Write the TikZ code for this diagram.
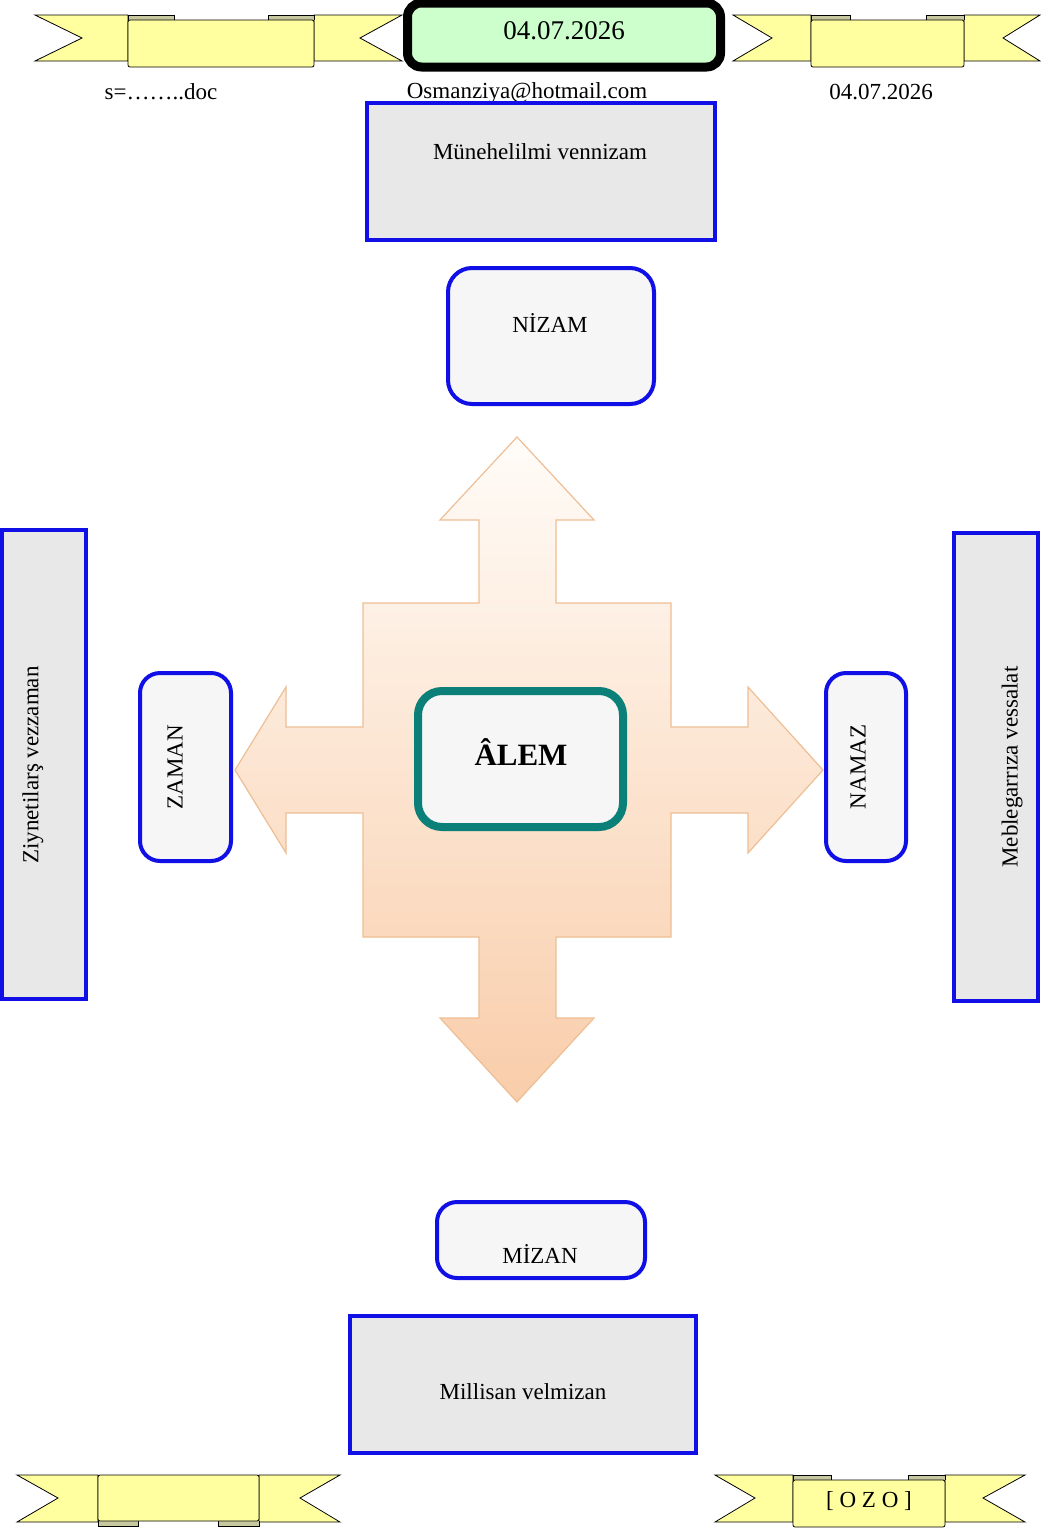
\documentclass[tikz,border=0pt]{standalone}
\usepackage{fontspec}
\setmainfont{Liberation Serif}
\definecolor{boxblue}{RGB}{15,15,230}
\definecolor{boxgray}{RGB}{232,232,232}
\definecolor{boxlight}{RGB}{246,246,246}
\definecolor{tealc}{RGB}{10,128,120}
\definecolor{ribyellow}{RGB}{255,255,160}
\definecolor{foldc}{RGB}{200,200,160}
\definecolor{dategreen}{RGB}{204,255,204}
\definecolor{arrtop}{RGB}{255,252,248}
\definecolor{arrbot}{RGB}{249,205,170}
\definecolor{arrline}{RGB}{238,190,148}
\begin{document}
\begin{tikzpicture}[x=1pt,y=-1pt,
  bluebox/.style={draw=boxblue, line width=4pt, fill=boxgray, inner sep=0pt},
  roundbox/.style={draw=boxblue, line width=4pt, fill=boxlight, rounded corners=20pt, inner sep=0pt},
  lbl/.style={font=\fontsize{23}{27}\selectfont, inner sep=0pt},
  ribbon/.style={fill=ribyellow, draw=black, line width=0.8pt},
  fold/.style={fill=foldc, draw=black, line width=0.6pt},
]
\useasboundingbox (0,0) rectangle (1041,1529);

% ---- top-left banner
\draw[ribbon] (128,15) -- (35,15) -- (82,38) -- (35,61) -- (128,61) -- cycle;
\draw[ribbon] (314,15) -- (402,15) -- (360,38) -- (402,61) -- (314,61) -- cycle;
\draw[fold] (128,20) -- (128,15) -- (174,15) -- (174,20);
\draw[fold] (268,20) -- (268,15) -- (314,15) -- (314,20);
\draw[ribbon, rounded corners=2pt] (128,20) rectangle (314,67);

% ---- top-right banner
\draw[ribbon] (811,15) -- (733,15) -- (772,38) -- (733,61) -- (811,61) -- cycle;
\draw[ribbon] (964,15) -- (1040,15) -- (1003,38) -- (1040,61) -- (964,61) -- cycle;
\draw[fold] (811,20) -- (811,15) -- (850,15) -- (850,20);
\draw[fold] (926,20) -- (926,15) -- (964,15) -- (964,20);
\draw[ribbon, rounded corners=2pt] (811,20) rectangle (964,67);

% ---- date box
\node[draw=black, line width=9pt, fill=dategreen, rounded corners=14pt,
      minimum width=313pt, minimum height=64pt, inner sep=0pt] (datebox) at (564,35) {};
\node[font=\fontsize{27}{32}\selectfont, inner sep=0pt] (datetxt) at (564,31) {04.07.2026};

% ---- header texts
\node[lbl] (doc) at (161,92) {s=……..doc};
\node[lbl] (date2) at (881,92) {04.07.2026};
\node[lbl] (mail) at (527,93) {Osmanziya@hotmail.com};

% ---- four-way arrow
\draw[arrline, line width=1.2pt, top color=arrtop, bottom color=arrbot]
  (517,437) -- (594,520) -- (556,520) -- (556,603) -- (671,603) -- (671,727)
  -- (748,727) -- (748,687) -- (823,770) -- (748,853) -- (748,813) -- (671,813)
  -- (671,937) -- (556,937) -- (556,1018) -- (594,1018) -- (517,1102) -- (440,1018)
  -- (479,1018) -- (479,937) -- (363,937) -- (363,813) -- (286,813) -- (286,853)
  -- (235,770) -- (286,687) -- (286,727) -- (363,727) -- (363,603) -- (479,603)
  -- (479,520) -- (440,520) -- cycle;

% ---- boxes
\node[bluebox, minimum width=348pt, minimum height=137pt] (mun) at (541,171.5) {};
\node[lbl] (muntxt) at (540,152) {Münehelilmi vennizam};

\node[roundbox, rounded corners=24pt, minimum width=206pt, minimum height=136pt] (nizam) at (551,336) {};
\node[lbl] (nizamtxt) at (550,323) {NİZAM};

\node[bluebox, minimum width=84pt, minimum height=469pt] (ziy) at (44,764.5) {};
\node[lbl, rotate=90] (ziytxt) at (33,765) {Ziynetilarş vezzaman};

\node[roundbox, minimum width=91pt, minimum height=188pt] (zaman) at (185.5,767) {};
\node[lbl, rotate=90] (zamantxt) at (175,767) {ZAMAN};

\node[roundbox, minimum width=80pt, minimum height=188pt] (namaz) at (866,767) {};
\node[lbl, rotate=90] (namaztxt) at (858,767) {NAMAZ};

\node[bluebox, minimum width=84pt, minimum height=468pt] (meb) at (996,767) {};
\node[lbl, rotate=90] (mebtxt) at (1012,767) {Meblegarrıza vessalat};

\node[draw=tealc, line width=8pt, fill=boxlight, rounded corners=24pt,
      minimum width=205pt, minimum height=136pt, inner sep=0pt] (alem) at (520.5,759) {};
\node[font=\fontsize{31}{36}\selectfont\bfseries, inner sep=0pt] (alemtxt) at (521,752) {ÂLEM};

\node[roundbox, minimum width=208pt, minimum height=76pt] (mizan) at (541,1240) {};
\node[lbl] (mizantxt) at (540,1254) {MİZAN};

\node[bluebox, minimum width=346pt, minimum height=137pt] (mil) at (523,1384.5) {};
\node[lbl] (miltxt) at (523,1392) {Millisan velmizan};

% ---- bottom-left banner
\draw[ribbon] (98,1475) -- (17,1475) -- (58,1498) -- (17,1522) -- (98,1522) -- cycle;
\draw[ribbon] (259,1475) -- (340,1475) -- (300,1498) -- (340,1522) -- (259,1522) -- cycle;
\draw[fold] (98,1521) -- (98,1526) -- (138,1526) -- (138,1521);
\draw[fold] (218,1521) -- (218,1526) -- (259,1526) -- (259,1521);
\draw[ribbon, rounded corners=2pt] (98,1475) rectangle (259,1521);

% ---- bottom-right banner
\draw[ribbon] (793,1475) -- (715,1475) -- (755,1498) -- (715,1522) -- (793,1522) -- cycle;
\draw[ribbon] (945,1475) -- (1025,1475) -- (983,1498) -- (1025,1522) -- (945,1522) -- cycle;
\draw[fold] (793,1480) -- (793,1475) -- (831,1475) -- (831,1480);
\draw[fold] (908,1480) -- (908,1475) -- (945,1475) -- (945,1480);
\draw[ribbon, rounded corners=2pt] (793,1480) rectangle (945,1527);
\node[lbl] (ozo) at (869,1501) {[ O Z O ]};
\end{tikzpicture}
\end{document}
